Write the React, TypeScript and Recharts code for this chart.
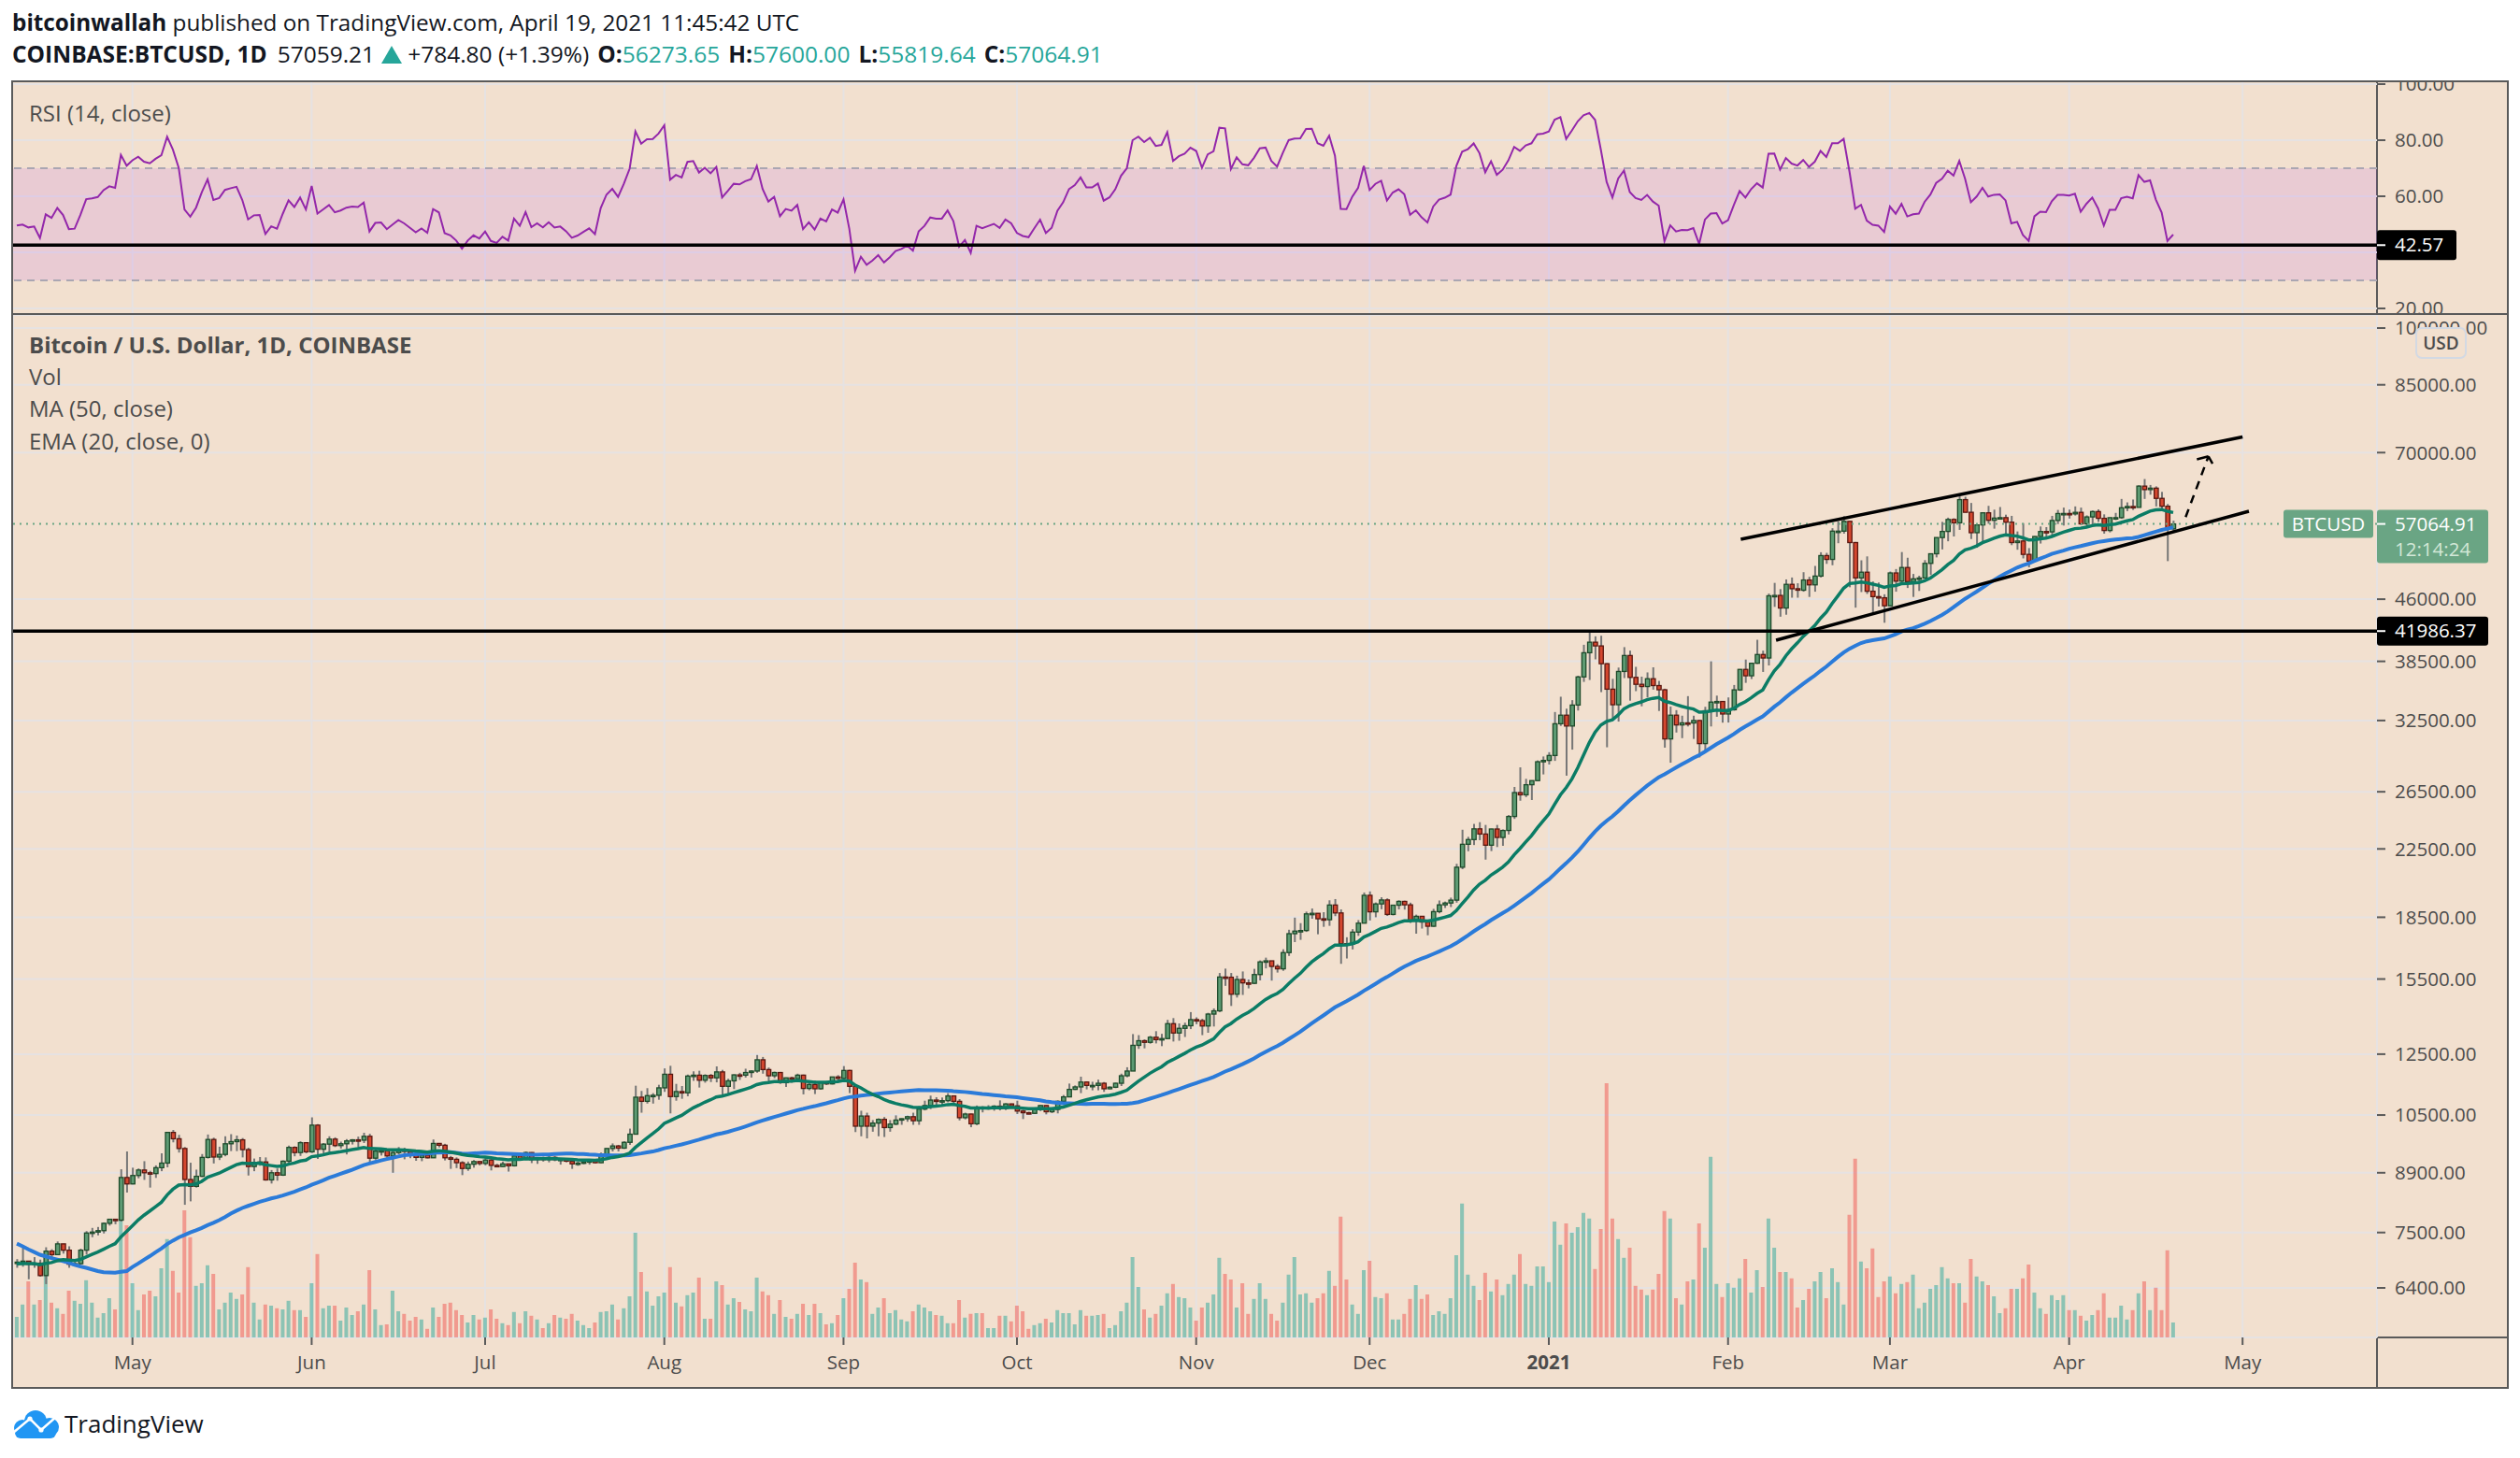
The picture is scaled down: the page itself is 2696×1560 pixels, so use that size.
import React from 'react';
import {
  ComposedChart, Bar, Line, XAxis, YAxis, CartesianGrid, ReferenceLine, ReferenceArea, Cell,
} from 'recharts';

// ---------------- DATA ----------------
// closes Feb 20 – Apr 10, 2020 (indicator warm-up, not drawn)
const warmupCloses = [
  9600, 9690, 9660, 9960, 9650, 9310, 8780, 8820, 8710, 8530,
  8530, 8910, 8760, 8750, 9060, 9150, 8890, 8030, 7930, 7890, 7940,
  4860, 5560, 5170, 5360, 5020, 5360, 5410, 6180, 6200, 6190,
  5820, 6490, 6770, 6690, 6760, 6370, 6250, 5880, 6400, 6420,
  6640, 6800, 6740, 6860, 6780, 7340, 7200, 7370, 7300, 6870,
];

// daily candles [close, high, low]; open = previous close
const apr2020 = [[6890,6950,6780],[6910,7190,6800],[6850,6880,6560],[6870,6990,6780],[6630,6940,6610],[7110,7190,6470],[7040,7150,6990],[7260,7310,7030],[7130,7260,7060],[6850,7210,6780],[6860,6950,6810],[7130,7160,6840],[7490,7530,7040],[7510,7600,7400],[7540,7620,7440],[7700,7720,7480],[7790,7800,7650],[7770,7790,7680],[8780,8990,7740],[8620,9460,8410]];
const may2020 = [[8830,9030,8610],[8970,9010,8760],[8900,9200,8720],[8880,8950,8530],[9030,9090,8770],[9150,9410,8940],[9990,10000,9040],[9810,10060,9710],[9540,9920,9430],[8730,9580,8120],[8560,9160,8200],[8810,8980,8530],[9300,9390,8790],[9790,9930,9270],[9310,9840,9140],[9380,9590,9230],[9670,9880,9330],[9730,9940,9470],[9780,9900,9470],[9510,9830,9300],[9060,9560,8830],[9170,9270,8940],[9180,9310,9080],[8720,9300,8700],[8900,8970,8630],[8840,9010,8700],[9200,9220,8820],[9570,9620,9110],[9430,9600,9330],[9700,9740,9340],[9450,9700,9410]];
const jun2020 = [[10200,10430,9420],[9520,10230,9260],[9660,9690,9400],[9800,9880,9450],[9620,9850,9580],[9670,9730,9540],[9750,9800,9380],[9780,9800,9650],[9770,9870,9570],[9880,9980,9690],[9280,9950,9110],[9470,9550,9240],[9480,9490,9350],[9340,9490,9240],[9430,9490,8900],[9520,9580,9380],[9460,9560,9250],[9380,9480,9280],[9300,9440,9210],[9360,9390,9200],[9290,9420,9270],[9680,9790,9290],[9630,9690,9570],[9290,9670,9220],[9250,9340,9000],[9160,9300,9020],[9010,9200,8840],[9120,9190,8950],[9190,9230,9030],[9140,9200,9090]];
const jul2020 = [[9230,9300,9090],[9090,9270,8960],[9060,9130,9040],[9130,9190,9050],[9080,9130,8930],[9340,9370,9060],[9250,9360,9210],[9430,9460,9230],[9240,9440,9150],[9290,9300,9130],[9240,9320,9190],[9300,9340,9170],[9240,9340,9200],[9250,9280,9110],[9200,9270,9170],[9130,9210,9000],[9150,9190,9080],[9180,9200,9120],[9210,9240,9110],[9160,9220,9140],[9390,9430,9150],[9540,9550,9300],[9610,9680,9460],[9550,9640,9460],[9710,9740,9530],[9940,10100,9640],[11050,11420,9930],[10920,11250,10570],[11100,11340,10850],[11110,11180,10850],[11350,11450,10970]];
const aug2020 = [[11800,12000,11220],[11070,12090,10550],[11230,11480,10940],[11190,11410,11000],[11740,11790,11080],[11770,11900,11580],[11600,11920,11360],[11760,11800,11520],[11680,11810,11540],[11880,12070,11530],[11400,11950,11130],[11580,11650,11160],[11780,11800,11310],[11770,11850,11610],[11860,11990,11690],[11910,11930,11690],[12300,12470,11850],[11960,12400,11820],[11750,12030,11560],[11860,11890,11670],[11520,11880,11480],[11680,11690,11380],[11650,11720,11520],[11770,11820,11600],[11330,11790,11140],[11460,11540,11270],[11320,11590,11150],[11530,11560,11290],[11480,11570,11440],[11710,11720,11460],[11660,11770,11560]];
const sep2020 = [[11930,12080,11620],[11400,11950,11180],[10170,11470,10000],[10470,10630,9880],[10170,10570,9820],[10260,10350,10010],[10370,10400,9880],[10130,10440,9860],[10230,10350,10010],[10350,10490,10200],[10390,10400,10210],[10450,10480,10300],[10330,10570,10210],[10680,10770,10210],[10790,10940,10640],[10960,11100,10680],[10940,11050,10740],[10940,11040,10810],[11090,11180,10890],[10920,11090,10780],[10420,10990,10340],[10530,10570,10370],[10240,10540,10140],[10740,10790,10200],[10690,10770,10580],[10730,10800,10660],[10770,10800,10630],[10700,10950,10640],[10840,10860,10650],[10780,10850,10730]];
const oct2020 = [[10620,10940,10530],[10570,10660,10380],[10550,10600,10520],[10670,10700,10540],[10790,10800,10620],[10600,10800,10520],[10670,10690,10560],[10920,10950,10550],[11060,11120,10830],[11300,11490,11060],[11380,11430,11280],[11540,11720,11180],[11430,11560,11300],[11430,11550,11270],[11500,11620,11270],[11320,11540,11220],[11370,11400,11300],[11500,11520,11340],[11750,11820,11410],[11910,12040,11700],[12820,13240,11910],[12990,13200,12690],[12930,13040,12710],[13120,13170,12880],[13030,13350,12890],[13070,13250,12790],[13640,13790,13050],[13280,13860,12960],[13460,13650,12990],[13560,13680,13130],[13800,14100,13430]];
const nov2020 = [[13760,13890,13620],[13550,13830,13200],[14020,14070,13290],[14150,14250,13530],[15590,15770,14100],[15580,15970,15200],[14840,15770,14350],[15480,15650,14700],[15330,15840,14810],[15310,15480,15090],[15700,15960,15280],[16280,16350,15440],[16330,16480,15980],[16070,16330,15430],[15960,16170,15790],[16720,16880,15870],[17650,17850,16560],[17780,18480,17230],[17810,18190,17340],[18680,18800,17740],[18710,18970,18420],[18420,18700,17620],[18370,18770,18000],[19160,19420,18050],[18730,19490,18560],[17150,18920,16190],[17140,17470,16440],[17730,17880,16870],[18190,18350,17540],[19700,19860,18180]];
const dec2020 = [[18790,19920,18330],[19220,19300,18500],[19440,19590,18930],[18650,19530,18570],[19150,19170,18600],[19360,19420,18920],[19170,19400,18910],[18320,19290,18200],[18550,18640,17650],[18250,18560,17910],[18030,18290,17570],[18800,18950,18000],[19170,19410,18710],[19270,19350,19000],[19430,19570,19050],[21350,21560,19290],[22800,23770,21230],[23110,23290,22350],[23830,24170,22750],[23480,24290,23070],[22740,24100,21820],[23820,23840,22360],[23250,24100,22620],[23720,23790,22700],[24690,24790,23450],[26440,26870,24520],[26270,28420,25830],[27040,27500,26100],[27360,27380,25880],[28880,28990,27320],[28990,29320,27850]];
const jan2021 = [[29400,29680,28650],[32200,33300,28950],[33000,34790,32000],[31990,33620,27750],[33970,34450,29900],[36820,36950,33440],[39460,40370,36300],[40670,41986.37,36500],[40240,41360,38720],[38240,41430,35250],[35550,38300,30100],[34000,36620,32500],[37400,37820,32400],[39150,40100,36700],[36770,39700,34400],[36050,37900,35350],[35820,36850,33850],[36630,37300,34720],[35920,37850,35500],[35490,36400,33400],[30830,35600,30070],[33000,33830,28800],[32090,33480,31400],[32280,32950,30900],[32270,34850,31950],[32500,32950,30830],[30420,32550,29240],[33420,33800,29840],[34260,38500,31950],[34320,34900,32850],[33110,34320,32300]];
const feb2021 = [[33520,34720,32310],[35480,35980,33420],[37620,37660,35370],[36940,38700,36200],[38290,38300,36600],[39260,40950,38220],[38870,39700,37350],[46450,46750,38050],[46500,48200,45000],[44850,47350,43750],[48000,48680,44000],[47400,48950,46200],[47200,48150,46200],[48600,49700,47000],[47930,49050,46300],[49150,50600,47000],[52120,52620,48950],[51550,52530,50900],[55900,56370,50700],[55900,57490,54000],[57490,58350,55500],[54100,57500,47600],[48890,54200,44900],[49700,51420,46950],[47060,52000,46700],[46340,48400,44130],[46190,48250,45050],[45140,46650,43000]];
const mar2021 = [[49590,49790,45050],[48440,50150,47000],[50370,52650,48100],[48370,51800,47500],[48760,49450,46300],[48880,49200,47100],[50970,51450,48850],[52390,52400,49300],[54880,54900,51850],[55850,57400,53050],[57800,58100,54300],[57250,58000,55050],[61180,61790,56100],[59000,61690,58980],[55650,60600,54650],[56900,56930,53300],[58910,58980,54150],[57660,60100,57100],[58030,59450,56300],[58100,59900,57850],[57350,58600,55500],[54100,58400,53700],[54340,55850,53000],[52300,57200,51700],[51300,53250,50400],[55050,55100,51300],[55840,56650,53950],[55780,56550,54700],[57630,58400,54900],[58790,59400,57050],[58800,59800,56800]];
const apr2021 = [[58730,59460,57950],[58990,60000,58450],[57080,59800,56900],[58220,58480,56500],[59120,59300,56800],[57990,59500,57400],[56000,58650,55500],[58090,58150,55700],[58100,58900,57700],[59770,61300,57900],[59990,60700,59200],[59840,61200,59400],[63590,63750,59850],[62960,64895,61300],[63220,63800,62050],[61400,63550,60000],[60030,62550,59650],[56273.65,60420,51300],[57064.91,57600,55819.64]];

// daily volume (BTC), Apr 11 2020 – Apr 19 2021
const volumes = [
  5500, 8800, 15000, 8800, 10000, 22300, 9300, 7800, 6300, 12500,
  9800, 9000, 15300, 9300, 5300, 6500, 10500, 7500, 32800, 30000,
  14500, 7300, 11500, 12500, 11000, 18500, 26300, 17800, 12000, 34000,
  26800, 13800, 14500, 19300, 17000, 7500, 9300, 12000, 10300, 11500,
  18800, 9300, 4800, 8800, 8500, 7800, 7500, 9800, 7300, 7300,
  5500, 14500, 22300, 7800, 8500, 8500, 4500, 8000, 6000, 7000,
  8800, 18000, 7500, 3300, 3500, 12500, 7000, 6300, 4500, 5500,
  4800, 2300, 8000, 5500, 9000, 9300, 7300, 6000, 4000, 6000,
  4800, 5300, 7500, 5000, 3800, 3300, 6800, 3800, 7000, 5800,
  4800, 2500, 3800, 6000, 5300, 5000, 6300, 4500, 3300, 2500,
  4000, 6800, 7000, 8800, 4800, 7800, 11000, 28000, 17500, 12300,
  8500, 11000, 12000, 18800, 9300, 8300, 11300, 12000, 16000, 5000,
  5000, 15000, 14000, 8800, 10500, 9500, 7500, 7000, 16000, 12300,
  11300, 6300, 10000, 5500, 5000, 6300, 9000, 6000, 9000, 6500,
  3500, 3800, 6000, 10500, 13000, 20000, 15500, 14800, 6300, 8000,
  10500, 6500, 7300, 4800, 4300, 7000, 8800, 8000, 7000, 6000,
  5800, 3800, 3800, 10000, 5300, 6300, 6500, 6500, 2500, 2500,
  5800, 5800, 4300, 8500, 7000, 2300, 3300, 3800, 5000, 4000,
  7300, 6500, 6500, 3500, 7300, 5800, 5800, 6000, 6300, 2500,
  3300, 7000, 9300, 21500, 13500, 7500, 5300, 6300, 8500, 11800,
  14300, 10800, 10500, 8000, 4500, 8000, 9300, 11500, 21300, 17000,
  15500, 8000, 14500, 6300, 10300, 14500, 10300, 6300, 4500, 9300,
  16800, 21500, 11500, 11800, 9300, 10500, 11800, 17800, 13800, 32300,
  15500, 8800, 6300, 18000, 20500, 10800, 10500, 11800, 4800, 4800,
  6300, 10300, 14000, 10300, 11500, 6000, 7000, 6300, 10500, 22000,
  35800, 16800, 13800, 10000, 17300, 12300, 15500, 11300, 14300, 16800,
  22300, 14300, 13800, 19000, 19000, 14800, 31000, 24800, 30500, 28000,
  29500, 33300, 31800, 18300, 29000, 68000, 31800, 26300, 21300, 24000,
  13800, 12800, 11300, 12800, 17000, 33800, 31800, 10500, 8800, 15000,
  15500, 30500, 24000, 48300, 14300, 10800, 14500, 13300, 15800, 21000,
  12000, 18000, 13500, 31800, 24000, 17500, 17500, 15800, 8000, 10000,
  13000, 15000, 17500, 10500, 18500, 14800, 8800, 32800, 47800, 20300,
  18500, 23800, 10800, 15000, 16300, 11800, 14300, 14800, 16800, 7800,
  9300, 13000, 14000, 18800, 15800, 14500, 14500, 9300, 21000, 16300,
  15000, 14000, 11000, 6500, 7800, 13000, 13000, 15800, 19500, 12000,
  7800, 6300, 11300, 10000, 11300, 7300, 7300, 5800, 4500, 6000,
  7300, 11800, 5300, 5300, 8500, 4800, 7300, 11800, 15000, 7300,
  13300, 7300, 23300, 4000,
];

// time axis: day index (0 = Apr 11 2020) of each month start
const monthTicks = [20, 51, 81, 112, 143, 173, 204, 234, 265, 296, 324, 355, 385];
const monthLabels = ['May', 'Jun', 'Jul', 'Aug', 'Sep', 'Oct', 'Nov', 'Dec', '2021', 'Feb', 'Mar', 'Apr', 'May'];
const priceTicks = [6400, 7500, 8900, 10500, 12500, 15500, 18500, 22500, 26500, 32500, 38500, 46000, 70000, 85000, 100000];
const rsiTicks = [20, 40, 60, 80, 100];

// drawings (day index, price)
const upperChannel = [[298.2, 54610], [385.0, 73210]];
const lowerChannel = [[304.3, 40900], [386.1, 59180]];
const arrowShaft = [[375.15, 58190], [379.1, 69250]];
const arrowWingA = [[377.1, 68650], [379.1, 69250]];
const arrowWingB = [[379.1, 69250], [380.1, 67200]];
const supportLevel = 41986.37;
const rsiLevel = 42.57;
const lastPrice = 57064.91;

// ---------------- INDICATORS ----------------
function smaCalc(a: number[], n: number) {
  return a.map((_, i) => (i < n - 1 ? null : a.slice(i - n + 1, i + 1).reduce((s, v) => s + v, 0) / n));
}
function emaCalc(a: number[], n: number) {
  const k = 2 / (n + 1);
  const out: (number | null)[] = [];
  let e = 0;
  a.forEach((v, i) => {
    if (i < n - 1) { out.push(null); return; }
    if (i === n - 1) e = a.slice(0, n).reduce((s, x) => s + x, 0) / n;
    else e = v * k + e * (1 - k);
    out.push(e);
  });
  return out;
}
function rsiCalc(a: number[], n: number) {
  const out: (number | null)[] = [null];
  let ag = 0, al = 0;
  for (let i = 1; i < a.length; i++) {
    const ch = a[i] - a[i - 1];
    const g = Math.max(ch, 0), l = Math.max(-ch, 0);
    if (i <= n) {
      ag += g / n; al += l / n;
      out.push(i === n ? 100 - 100 / (1 + ag / al) : null);
    } else {
      ag = (ag * (n - 1) + g) / n; al = (al * (n - 1) + l) / n;
      out.push(al === 0 ? 100 : 100 - 100 / (1 + ag / al));
    }
  }
  return out;
}

const months = [apr2020, may2020, jun2020, jul2020, aug2020, sep2020, oct2020, nov2020, dec2020, jan2021, feb2021, mar2021, apr2021];
const candles = months.flat();
const allCloses = [...warmupCloses, ...candles.map((c) => c[0])];
const ma50 = smaCalc(allCloses, 50);
const ema20 = emaCalc(allCloses, 20);
const rsi14 = rsiCalc(allCloses, 14);
const OFF = warmupCloses.length;
const rows = candles.map((c, i) => {
  const open = allCloses[OFF + i - 1];
  const close = c[0];
  const high = Math.max(c[1], open, close);
  const low = Math.min(c[2], open, close);
  return {
    d: i, open, close, high, low, range: [low, high], vol: volumes[i],
    up: close >= open, ma: ma50[OFF + i], ema: ema20[OFF + i], rsi: rsi14[OFF + i],
  };
});

// ---------------- STYLE ----------------
const FONT = "'Open Sans', sans-serif";
const BG = '#f2e0cf';
const LINE = '#5a5a5a';
const GRID = '#e6e2e2';
const TEAL = '#26a69a';
const TXT = '#4c4c4c';
const X_DOMAIN: [number, number] = [-0.647, 408.25];
const P_DOMAIN: [number, number] = [5553.6, 103818];
const R_DOMAIN: [number, number] = [18.333, 100.667];
const CHART_W = 2669;

const Candle = (p: any) => {
  const { x, y, width, height, payload } = p;
  if (!payload || !isFinite(y) || !isFinite(height)) return null;
  const top = Math.min(y, y + height);
  const h = Math.abs(height);
  const cx = x + width / 2;
  const lh = Math.log(payload.high), ll = Math.log(payload.low);
  const span = lh - ll || 1;
  const py = (v: number) => top + ((lh - Math.log(v)) / span) * h;
  const yo = py(payload.open), yc = py(payload.close);
  const bt = Math.min(yo, yc);
  const bh = Math.max(Math.abs(yc - yo), 1.5);
  const up = payload.close >= payload.open;
  return (
    <g>
      <line x1={cx} x2={cx} y1={top} y2={top + h} stroke="#767676" strokeWidth={2} />
      <rect x={cx - 2.2} y={bt} width={4.4} height={bh} fill={up ? '#5d9b73' : '#d4472f'} stroke={up ? '#1e4a2a' : '#5a1710'} strokeWidth={1.3} />
    </g>
  );
};

const AxisBadge = ({ viewBox, text, bg, w, h }: any) => {
  if (!viewBox) return null;
  const x = viewBox.x + viewBox.width;
  const y = viewBox.y;
  return (
    <g>
      <rect x={x} y={y - h / 2} width={w} height={h} rx={3} fill={bg} />
      <line x1={x} x2={x + 9} y1={y} y2={y} stroke="#fff" strokeWidth={2} />
      <text x={x + 19} y={y} dy="0.35em" fill="#fff" fontSize={20.5} fontFamily={FONT}>{text}</text>
    </g>
  );
};

const PriceTag = ({ viewBox }: any) => {
  if (!viewBox) return null;
  const x = viewBox.x + viewBox.width;
  const y = viewBox.y;
  const green = '#6aa584';
  return (
    <g>
      <rect x={x - 100} y={y - 15} width={96} height={30} rx={3} fill={green} />
      <text x={x - 52} y={y} dy="0.35em" textAnchor="middle" fill="#fff" fontSize={20.5} fontFamily={FONT}>BTCUSD</text>
      <rect x={x} y={y - 15} width={119} height={57} rx={3} fill={green} />
      <line x1={x} x2={x + 9} y1={y} y2={y} stroke="#fff" strokeWidth={2} />
      <text x={x + 19} y={y} dy="0.35em" fill="#fff" fontSize={20.5} fontFamily={FONT}>{lastPrice.toFixed(2)}</text>
      <text x={x + 19} y={y + 27} dy="0.35em" fill="#d3e8d8" fontSize={20.5} fontFamily={FONT}>12:14:24</text>
    </g>
  );
};

const TimeTick = (p: any) => {
  const { x, y, payload } = p;
  const i = monthTicks.indexOf(payload.value);
  const label = monthLabels[i] ?? '';
  return (
    <text x={x} y={y + 17} dy="0.35em" textAnchor="middle" fill={TXT} fontSize={20.5} fontFamily={FONT} fontWeight={label === '2021' ? 700 : 400}>
      {label}
    </text>
  );
};

const seg = (s: number[][]) => [{ x: s[0][0], y: s[0][1] }, { x: s[1][0], y: s[1][1] }];

const hl = (left: number, top: number, width: number, height: number): React.CSSProperties => ({
  position: 'absolute', left, top, width, height, background: LINE,
});

export default function App() {
  return (
    <div style={{ position: 'absolute', left: 0, top: 0, width: 2696, height: 1560, background: '#fff', fontFamily: FONT, overflow: 'hidden' }}>
      {/* header */}
      <div style={{ position: 'absolute', left: 13, top: 9, lineHeight: '30px', fontSize: 24.3, color: '#131722', whiteSpace: 'nowrap' }}>
        <b>bitcoinwallah</b> published on TradingView.com, April 19, 2021 11:45:42 UTC
      </div>
      <div style={{ position: 'absolute', left: 13, top: 43, lineHeight: '30px', fontSize: 24.5, color: '#131722', whiteSpace: 'nowrap' }}>
        <b>COINBASE:BTCUSD, 1D</b>
        <span style={{ marginLeft: 11 }}>57059.21</span>
        <svg width={22} height={19} style={{ marginLeft: 7, marginRight: 6, verticalAlign: '-1px' }}>
          <polygon points="11,0 22,19 0,19" fill={TEAL} />
        </svg>
        <span>+784.80 (+1.39%)</span>
        <b style={{ marginLeft: 9 }}>O:</b><span style={{ color: TEAL }}>56273.65</span>
        <b style={{ marginLeft: 9 }}>H:</b><span style={{ color: TEAL }}>57600.00</span>
        <b style={{ marginLeft: 9 }}>L:</b><span style={{ color: TEAL }}>55819.64</span>
        <b style={{ marginLeft: 9 }}>C:</b><span style={{ color: TEAL }}>57064.91</span>
      </div>

      {/* frame background */}
      <div style={{ position: 'absolute', left: 12, top: 86, width: 2672, height: 1400, background: BG }} />
      {/* frame lines (under the charts) */}
      <div style={hl(12, 86, 2672, 2)} />
      <div style={hl(12, 1484, 2672, 2)} />
      <div style={hl(12, 86, 2, 1400)} />
      <div style={hl(2682, 86, 2, 1400)} />
      <div style={hl(12, 335, 2672, 2)} />
      <div style={hl(12, 1430, 2672, 2)} />
      <div style={hl(2542, 86, 2, 1400)} />

      {/* RSI pane */}
      <div style={{ position: 'absolute', left: 14, top: 88 }}>
        <ComposedChart width={CHART_W} height={247} data={rows} margin={{ top: 0, right: 0, bottom: 0, left: 0 }}>
          <CartesianGrid stroke={GRID} strokeWidth={2} verticalValues={monthTicks} horizontalValues={rsiTicks} />
          <XAxis dataKey="d" type="number" domain={X_DOMAIN} allowDataOverflow ticks={monthTicks} hide />
          <YAxis orientation="right" width={140} domain={R_DOMAIN} allowDataOverflow ticks={rsiTicks} interval={0}
            axisLine={false} tickSize={9} tickMargin={10} tickLine={{ stroke: LINE, strokeWidth: 2 }}
            tick={{ fill: TXT, fontSize: 20.5, fontFamily: FONT }} tickFormatter={(v: number) => v.toFixed(2)} />
          <ReferenceArea y1={30} y2={70} fill="#9915ff" fillOpacity={0.1} stroke="none" ifOverflow="visible" />
          <ReferenceLine y={70} stroke="#aaa6b2" strokeWidth={2} strokeDasharray="8 6" />
          <ReferenceLine y={30} stroke="#aaa6b2" strokeWidth={2} strokeDasharray="8 6" />
          <Line dataKey="rsi" stroke="#9327aa" strokeWidth={2} dot={false} isAnimationActive={false} />
        </ComposedChart>
      </div>
      <div style={{ position: 'absolute', left: 14, top: 88 }}>
        <ComposedChart width={CHART_W} height={247} data={rows} margin={{ top: 0, right: 140, bottom: 0, left: 0 }}>
          <XAxis dataKey="d" type="number" domain={X_DOMAIN} allowDataOverflow hide />
          <YAxis domain={R_DOMAIN} allowDataOverflow hide />
          <ReferenceLine y={rsiLevel} stroke="#000" strokeWidth={3.5}
            label={(p: any) => <AxisBadge viewBox={p.viewBox} text={rsiLevel.toFixed(2)} bg="#000" w={85} h={32} />} />
        </ComposedChart>
      </div>

      {/* price pane: grid, axes, volume */}
      <div style={{ position: 'absolute', left: 14, top: 337 }}>
        <ComposedChart width={CHART_W} height={1147} data={rows} margin={{ top: 0, right: 0, bottom: 0, left: 0 }}>
          <CartesianGrid yAxisId="p" stroke={GRID} strokeWidth={2} />
          <XAxis dataKey="d" type="number" domain={X_DOMAIN} allowDataOverflow ticks={monthTicks} interval={0} height={53}
            axisLine={false} tickSize={8} tickLine={{ stroke: LINE, strokeWidth: 2 }} tick={<TimeTick />} />
          <YAxis yAxisId="p" orientation="right" width={140} scale="log" domain={P_DOMAIN} allowDataOverflow ticks={priceTicks} interval={0}
            axisLine={false} tickSize={9} tickMargin={10} tickLine={{ stroke: LINE, strokeWidth: 2 }}
            tick={{ fill: TXT, fontSize: 20.5, fontFamily: FONT }} tickFormatter={(v: number) => v.toFixed(2)} />
          <YAxis yAxisId="v" hide domain={[0, 273500]} />
          <Bar yAxisId="v" dataKey="vol" barSize={4} isAnimationActive={false}>
            {rows.map((r) => (
              <Cell key={r.d} fill={r.up ? '#26a69a' : '#ef5350'} fillOpacity={0.5} />
            ))}
          </Bar>
        </ComposedChart>
      </div>

      {/* price pane: candles, averages, drawings */}
      <div style={{ position: 'absolute', left: 14, top: 337 }}>
        <ComposedChart width={CHART_W} height={1147} data={rows} margin={{ top: 0, right: 140, bottom: 53, left: 0 }}>
          <XAxis dataKey="d" type="number" domain={X_DOMAIN} allowDataOverflow hide />
          <YAxis yAxisId="p" hide scale="log" domain={P_DOMAIN} allowDataOverflow />
          <ReferenceLine yAxisId="p" y={lastPrice} stroke="#6aa584" strokeWidth={2} strokeDasharray="2 5"
            label={(p: any) => <PriceTag viewBox={p.viewBox} />} />
          <Bar yAxisId="p" dataKey="range" barSize={5} isAnimationActive={false} shape={(p: any) => <Candle {...p} />} />
          <Line yAxisId="p" dataKey="ma" stroke="#2b7bd9" strokeWidth={4} dot={false} isAnimationActive={false} />
          <Line yAxisId="p" dataKey="ema" stroke="#0b7c65" strokeWidth={3.5} dot={false} isAnimationActive={false} />
          <ReferenceLine yAxisId="p" y={supportLevel} stroke="#000" strokeWidth={3.5}
            label={(p: any) => <AxisBadge viewBox={p.viewBox} text={supportLevel.toFixed(2)} bg="#000" w={119} h={31} />} />
          <ReferenceLine yAxisId="p" segment={seg(upperChannel)} stroke="#000" strokeWidth={3.5} />
          <ReferenceLine yAxisId="p" segment={seg(lowerChannel)} stroke="#000" strokeWidth={3.5} />
          <ReferenceLine yAxisId="p" segment={seg(arrowShaft)} stroke="#000" strokeWidth={2.5} strokeDasharray="9 7" />
          <ReferenceLine yAxisId="p" segment={seg(arrowWingA)} stroke="#000" strokeWidth={2.5} />
          <ReferenceLine yAxisId="p" segment={seg(arrowWingB)} stroke="#000" strokeWidth={2.5} strokeDasharray="9 5" />
        </ComposedChart>
      </div>

      {/* pane legends */}
      <div style={{ position: 'absolute', left: 31, top: 106, lineHeight: '30px', fontSize: 24, color: TXT }}>RSI (14, close)</div>
      <div style={{ position: 'absolute', left: 31, top: 354, lineHeight: '30px', fontSize: 24, color: TXT, fontWeight: 700 }}>Bitcoin / U.S. Dollar, 1D, COINBASE</div>
      <div style={{ position: 'absolute', left: 31, top: 388, lineHeight: '30px', fontSize: 24, color: TXT }}>Vol</div>
      <div style={{ position: 'absolute', left: 31, top: 422, lineHeight: '30px', fontSize: 24, color: TXT }}>MA (50, close)</div>
      <div style={{ position: 'absolute', left: 31, top: 457, lineHeight: '30px', fontSize: 24, color: TXT }}>EMA (20, close, 0)</div>

      {/* currency badge */}
      <div style={{ position: 'absolute', left: 2584, top: 350, width: 55, height: 34, boxSizing: 'border-box', border: '2px solid #d3d9e3', borderRadius: 7, background: BG, color: TXT, fontSize: 19, fontWeight: 600, lineHeight: '30px', textAlign: 'center' }}>USD</div>

      {/* TradingView logo */}
      <svg style={{ position: 'absolute', left: 12, top: 1508 }} width={52} height={31} viewBox="0 0 52 31">
        <circle cx={26} cy={13} r={12} fill="#2196f3" />
        <circle cx={12} cy={20} r={9} fill="#2196f3" />
        <circle cx={41} cy={19} r={10} fill="#2196f3" />
        <rect x={4} y={19} width={44} height={12} rx={6} fill="#2196f3" />
        <polyline points="2,25 20,10 32,22 48,8" fill="none" stroke="#fff" strokeWidth={2.5} />
        <circle cx={20} cy={10} r={2.6} fill="#fff" />
        <circle cx={32} cy={22} r={2.6} fill="#fff" />
      </svg>
      <div style={{ position: 'absolute', left: 69, top: 1506, lineHeight: '34px', fontSize: 26, color: '#131722' }}>TradingView</div>
    </div>
  );
}
